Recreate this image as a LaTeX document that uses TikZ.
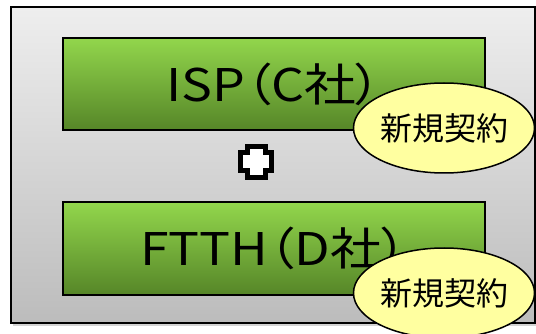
\documentclass[tikz,border=0pt]{standalone}
\usepackage{fontspec}
\setmainfont[RawFeature=+palt]{Noto Sans CJK JP}
\newfontfamily\widefont[RawFeature=+palt, FakeStretch=1.15]{Noto Sans CJK JP}
\usetikzlibrary{shapes.geometric,shadows}

\definecolor{paneltop}{RGB}{238,238,238}
\definecolor{panelbot}{RGB}{188,188,188}
\definecolor{greentop}{RGB}{146,214,76}
\definecolor{greenbot}{RGB}{86,134,40}
\definecolor{tagfill}{RGB}{255,255,160}

\tikzset{
	panel/.style={draw, line width=2pt, top color=paneltop, bottom color=panelbot,
		minimum width=524pt, minimum height=315pt,
		drop shadow={shadow xshift=2pt, shadow yshift=-3pt, opacity=.35}},
	service/.style={draw, line width=2pt, top color=greentop, bottom color=greenbot,
		minimum width=422pt, minimum height=92pt, font=\widefont\fontsize{45}{50}\selectfont},
	tag/.style={ellipse, draw, line width=1.5pt, fill=tagfill, inner sep=0pt,
		minimum width=180pt, minimum height=90pt, font=\fontsize{32}{35}\selectfont},
}

\begin{document}
\begin{tikzpicture}[x=1pt, y=-1pt]
	\useasboundingbox (0,0) rectangle (536,334);

	%% Background panel and the two contracts
	\node at (273,165) [panel] (frame) {};				% Grey panel
	\node at (274,84) [service] (isp) {ISP（C社）};		% Upper box
	\node at (274,248.5) [service] (ftth) {FTTH（D社）};	% Lower box

	%% Plus sign between them
	\coordinate (plus) at (256,162);
	\draw [line width=5pt, fill=white, line join=miter] (plus)
		++(-9,-15.5) -- ++(18,0) -- ++(0,6.5) -- ++(6.5,0) -- ++(0,18) -- ++(-6.5,0)
		-- ++(0,6.5) -- ++(-18,0) -- ++(0,-6.5) -- ++(-6.5,0) -- ++(0,-18) -- ++(6.5,0) -- cycle;

	%% Tags on the corners
	\node at (444,128) [tag] (newisp) {新規契約};
	\node at (444,293) [tag] (newftth) {新規契約};
\end{tikzpicture}
\end{document}
